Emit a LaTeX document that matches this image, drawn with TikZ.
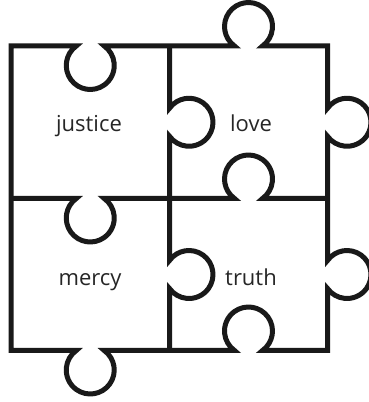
\documentclass[tikz,border=0pt]{standalone}
\usepackage{fontspec}
\setmainfont{Open Sans}
\usetikzlibrary{positioning}

\begin{document}
\begin{tikzpicture}[
  x=1pt, y=1pt,
  piece/.style={draw=black!90, line width=5pt, line join=miter},
  word/.style={anchor=base, text=black!85, font=\fontsize{22}{26}\selectfont}
]
\useasboundingbox (0,0) rectangle (368,402);

% outer rim: top, right, bottom, left
\draw[piece] (11,356) -- (76.25,356)
    arc[start angle=125.7, end angle=414.3, radius=24] -- (234.5,356)
    arc[start angle=234.3, end angle=-54.3, radius=24] -- (327.5,356)
  -- (327.5,293.75)
    arc[start angle=144.3, end angle=-144.3, radius=24] -- (327.5,141.5)
    arc[start angle=144.3, end angle=-144.3, radius=24] -- (327.5,51.5)
  -- (262.5,51.5)
    arc[start angle=-54.3, end angle=234.3, radius=24] -- (104.25,51.5)
    arc[start angle=54.3, end angle=-234.3, radius=24] -- (11,51.5)
  -- cycle;

% inner seams
\draw[piece] (11,203.5) -- (76.25,203.5)
    arc[start angle=125.7, end angle=414.3, radius=24] -- (234.5,203.5)
    arc[start angle=234.3, end angle=-54.3, radius=24] -- (327.5,203.5);
\draw[piece] (169.5,356) -- (169.5,293.75)
    arc[start angle=144.3, end angle=-144.3, radius=24] -- (169.5,141.5)
    arc[start angle=144.3, end angle=-144.3, radius=24] -- (169.5,51.5);

% the four words
\node[word] (justice) at (89,270)  {justice};
\node[word] (love)    at (251,270) {love};
\node[word] (mercy)   at (90,116)  {mercy};
\node[word] (truth)   at (251,116) {truth};

\end{tikzpicture}
\end{document}
